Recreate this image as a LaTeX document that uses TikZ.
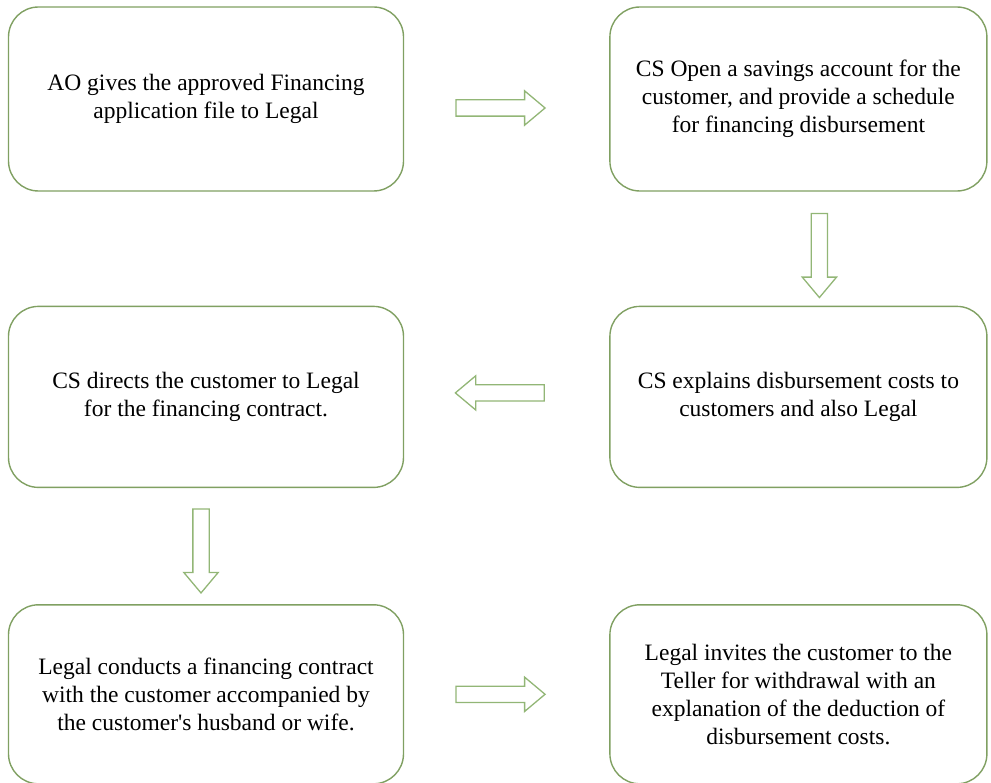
\documentclass[tikz,border=0pt]{standalone}
\usepackage{fontspec}
\setmainfont{Liberation Serif}[Ligatures=TeXOff]
\usepackage{tikz}
\usetikzlibrary{calc, positioning, shapes.arrows}
\definecolor{boxgreen}{RGB}{128,160,98}
\definecolor{arrgreen}{RGB}{146,182,118}
\tikzstyle{stepbox}=[draw=boxgreen, line width=1.4pt, rounded corners=30pt, fill=white,
  minimum height=182pt, align=center, font=\fontsize{23.5}{28}\selectfont]
\tikzstyle{lbox}=[stepbox, minimum width=395pt]
\tikzstyle{rbox}=[stepbox, minimum width=377pt]
\tikzstyle{blockarrow}=[single arrow, draw=arrgreen, line width=1.3pt, fill=white,
  inner sep=7.5pt, single arrow head extend=9pt, single arrow tip angle=80,
  minimum height=89pt]

\begin{document}
\begin{tikzpicture}[node distance=205pt]
      \useasboundingbox (0,0) rectangle (991pt,-783pt);
      \node [lbox, minimum height=184pt] (give) at (206pt,-99pt) {AO gives the approved Financing\\application file to Legal};
      \node [rbox, minimum height=184pt] (open) [right=of give] {CS Open a savings account for the\\customer, and provide a schedule\\for financing disbursement};
      \node [rbox, minimum height=181pt] (explain) [below=114pt of open] {CS explains disbursement costs to\\customers and also Legal};
      \node [lbox, minimum height=181pt] (direct) [left=of explain] {CS directs the customer to Legal\\for the financing contract.};
      \node [lbox, minimum height=179pt] (contract) [below=116pt of direct] {Legal conducts a financing contract\\with the customer accompanied by\\the customer's husband or wife.};
      \node [rbox, minimum height=179pt] (teller) [right=of contract] {Legal invites the customer to the\\Teller for withdrawal with an\\explanation of the deduction of\\disbursement costs.};

      % block arrows between the steps
      \node [blockarrow] (a1) at ($(give.east)!0.5!(open.west)+(-11pt,-9pt)$) {};
      \node [blockarrow, shape border rotate=270, minimum height=84pt] (a2) at ($(open.south)!0.5!(explain.north)+(21pt,-2pt)$) {};
      \node [blockarrow, shape border rotate=180] (a3) at ($(explain.west)!0.5!(direct.east)+(-2pt,4pt)$) {};
      \node [blockarrow, shape border rotate=270, minimum height=84pt] (a4) at ($(direct.south)!0.5!(contract.north)+(-5pt,0pt)$) {};
      \node [blockarrow] (a5) at ($(contract.east)!0.5!(teller.west)+(-11pt,0pt)$) {};
  \end{tikzpicture}
\end{document}
